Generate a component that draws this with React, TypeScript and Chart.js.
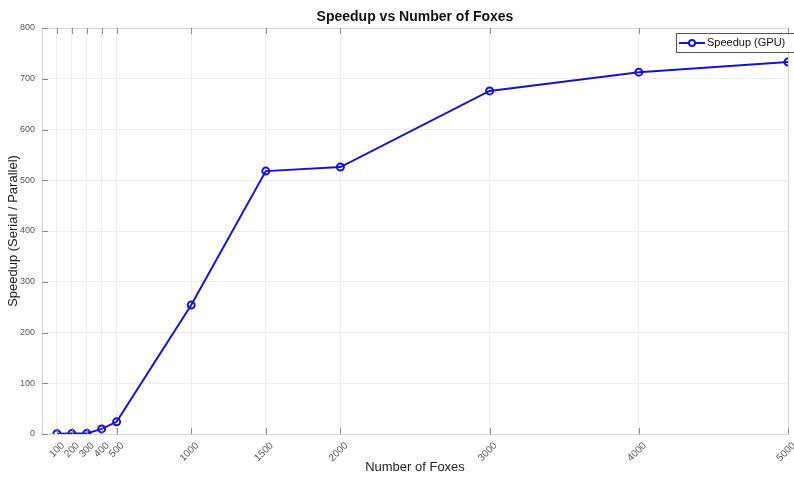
import React, { useEffect, useRef } from "react";
import { Chart, registerables } from "chart.js";

Chart.register(...registerables);

const foxes = [100, 200, 300, 400, 500, 1000, 1500, 2000, 3000, 4000, 5000];
const speedup = [0.5, 0.8, 1.2, 10, 24, 254, 518, 526, 676, 713, 733];
const yTicks = [0, 100, 200, 300, 400, 500, 600, 700, 800];
const seriesLabel = "Speedup (GPU)";
const titleText = "Speedup vs Number of Foxes";
const xTitle = "Number of Foxes";
const yTitle = "Speedup (Serial / Parallel)";

const FONT = "'Liberation Sans', Arial, Helvetica, sans-serif";
const LINE = "#1414c8";

const framePlugin = {
  id: "frame",
  afterDatasetsDraw(chart: any) {
    const { ctx, chartArea: a, scales } = chart;
    ctx.save();
    // box
    ctx.strokeStyle = "#d4d4d4";
    ctx.lineWidth = 1;
    ctx.strokeRect(a.left + 0.5, a.top + 0.5, a.right - a.left, a.bottom - a.top);
    // inner ticks
    ctx.strokeStyle = "#8a8a8a";
    ctx.beginPath();
    for (const v of foxes) {
      const x = Math.round(scales.x.getPixelForValue(v)) + 0.5;
      ctx.moveTo(x, a.bottom);
      ctx.lineTo(x, a.bottom - 6);
      ctx.moveTo(x, a.top);
      ctx.lineTo(x, a.top + 6);
    }
    for (const v of yTicks) {
      const y = Math.round(scales.y.getPixelForValue(v)) + 0.5;
      ctx.moveTo(a.left, y);
      ctx.lineTo(a.left + 6, y);
    }
    ctx.stroke();
    // rotated x tick labels
    ctx.fillStyle = "#555";
    ctx.font = `10px ${FONT}`;
    ctx.textAlign = "right";
    ctx.textBaseline = "middle";
    for (const v of foxes) {
      const x = scales.x.getPixelForValue(v);
      ctx.save();
      ctx.translate(x + 6, a.bottom + 10);
      ctx.rotate(-Math.PI / 4);
      ctx.fillText(String(v), 0, 0);
      ctx.restore();
    }
    // title
    ctx.fillStyle = "#111";
    ctx.font = `bold 14px ${FONT}`;
    ctx.textAlign = "center";
    ctx.textBaseline = "middle";
    ctx.fillText(titleText, (a.left + a.right) / 2, 17);
    // legend
    const lx = 676, ly = 33, lw = 118, lh = 19;
    ctx.fillStyle = "#fff";
    ctx.fillRect(lx, ly, lw, lh);
    ctx.strokeStyle = "#555";
    ctx.strokeRect(lx + 0.5, ly + 0.5, lw, lh);
    const cy = ly + lh / 2 + 0.5;
    ctx.strokeStyle = LINE;
    ctx.lineWidth = 2;
    ctx.beginPath();
    ctx.moveTo(lx + 3, cy);
    ctx.lineTo(lx + 29, cy);
    ctx.stroke();
    ctx.beginPath();
    ctx.arc(lx + 16, cy, 3, 0, Math.PI * 2);
    ctx.fillStyle = "#fff";
    ctx.fill();
    ctx.stroke();
    ctx.fillStyle = "#111";
    ctx.font = `11px ${FONT}`;
    ctx.textAlign = "left";
    ctx.fillText(seriesLabel, lx + 31, cy);
    ctx.restore();
  },
};

export default function App() {
  const ref = useRef<HTMLCanvasElement>(null);
  useEffect(() => {
    document.body.style.margin = "0";
    const chart = new Chart(ref.current as HTMLCanvasElement, {
      type: "line",
      data: {
        datasets: [
          {
            label: seriesLabel,
            data: foxes.map((x, i) => ({ x, y: speedup[i] })),
            borderColor: LINE,
            backgroundColor: "rgba(255,255,255,0)",
            borderWidth: 2,
            pointRadius: 3.5,
            pointBorderWidth: 2,
            pointBackgroundColor: "rgba(255,255,255,0)",
            pointBorderColor: LINE,
            tension: 0,
          },
        ],
      },
      options: {
        animation: false,
        responsive: false,
        layout: { padding: { top: 28, right: 1, left: 0, bottom: 0 } },
        plugins: { legend: { display: false }, title: { display: false }, tooltip: { enabled: false } },
        scales: {
          x: {
            type: "linear",
            min: 0,
            max: 5000,
            afterBuildTicks: (s: any) => {
              s.ticks = foxes.map((v) => ({ value: v }));
            },
            afterFit: (s: any) => {
              s.height = 43;
              s.paddingLeft = 0;
              s.paddingRight = 0;
            },
            grid: { color: "#ececec", drawTicks: false },
            border: { display: false },
            ticks: { display: false },
            title: {
              display: true,
              text: xTitle,
              color: "#222",
              font: { family: FONT, size: 13 },
              padding: { top: 0, bottom: 2 },
            },
          },
          y: {
            type: "linear",
            min: 0,
            max: 800,
            afterBuildTicks: (s: any) => {
              s.ticks = yTicks.map((v) => ({ value: v }));
            },
            afterFit: (s: any) => {
              s.width = 42;
              s.paddingTop = 0;
              s.paddingBottom = 0;
            },
            grid: { color: "#ececec", drawTicks: false },
            border: { display: false },
            ticks: {
              padding: 7,
              color: "#555",
              font: { family: FONT, size: 9 },
            },
            title: {
              display: true,
              text: yTitle,
              color: "#222",
              font: { family: FONT, size: 13 },
              padding: { top: 6, bottom: 0 },
            },
          },
        },
      },
      plugins: [framePlugin],
    } as any);
    return () => chart.destroy();
  }, []);
  return (
    <div style={{ width: 794, height: 477, background: "#fff" }}>
      <canvas ref={ref} width={794} height={477} style={{ display: "block" }} />
    </div>
  );
}
